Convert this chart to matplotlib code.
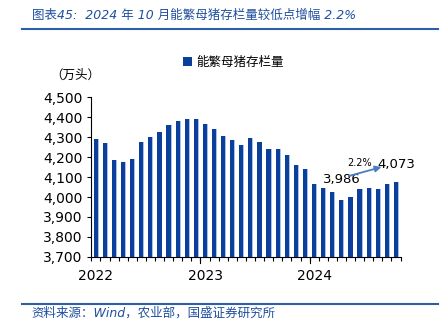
import numpy as np
import matplotlib.pyplot as plt
from matplotlib.ticker import FuncFormatter, FixedLocator

plt.rcParams['font.family'] = ['DejaVu Sans', 'Noto Sans CJK SC']

# 能繁母猪存栏量, 2022-01 .. 2024-10 (万头)
sow_2022 = [4290, 4268, 4185, 4177, 4192, 4277, 4298, 4324, 4362, 4379, 4390, 4390]
sow_2023 = [4367, 4343, 4305, 4287, 4258, 4297, 4273, 4242, 4242, 4212, 4162, 4142]
sow_2024 = [4067, 4045, 4023, 3986, 3998, 4040, 4043, 4038, 4063, 4073]
years = ['2022', '2023', '2024']
low_val = 3986
last_val = 4073
growth = '2.2%'

sows = sow_2022 + sow_2023 + sow_2024
x = np.arange(len(sows))

cjk = ['Noto Sans CJK SC', 'DejaVu Sans']
latin_first = ['DejaVu Sans', 'Noto Sans CJK SC']
blue_dark = '#0b3f9c'
blue_title = '#1f4f9e'

fig = plt.figure(figsize=(4.48, 3.35), dpi=100)
ax = fig.add_axes([0.203, 0.233, 0.692, 0.477])

# light edge on the right of each bar
ax.bar(x - 0.24, sows, width=0.56, align='edge', color='#a9c1e6', zorder=2)
ax.bar(x - 0.24, sows, width=0.46, align='edge', color=blue_dark, zorder=3,
       label='能繁母猪存栏量')

ax.set_ylim(3700, 4500)
ax.set_xlim(-0.55, len(sows) - 0.45)
ax.set_yticks(np.arange(3700, 4501, 100))
ax.yaxis.set_major_formatter(FuncFormatter(lambda v, p: f'{int(v):,}'))
ax.tick_params(axis='y', labelsize=10, length=3, width=0.8, pad=3)

ax.set_xticks([0, 12, 24])
ax.set_xticklabels(years)
ax.tick_params(axis='x', which='major', length=0, labelsize=10, pad=9)
bounds = np.arange(-0.5, len(sows), 1.0)
ax.xaxis.set_minor_locator(FixedLocator(bounds))
ax.tick_params(axis='x', which='minor', length=3, width=0.8)

for s in ['top', 'right']:
    ax.spines[s].set_visible(False)
for s in ['left', 'bottom']:
    ax.spines[s].set_linewidth(0.8)

# year boundaries get a longer tick
for b in [11.5, 23.5]:
    ax.plot([b, b], [0, -0.035], transform=ax.get_xaxis_transform(),
            color='black', lw=0.8, clip_on=False)

i_low = sows.index(low_val)
i_last = len(sows) - 1
ax.annotate(f'{low_val:,}', (i_low, low_val), xytext=(0, 10), textcoords='offset points',
            ha='center', va='bottom', fontsize=9.5, zorder=5)
ax.annotate(f'{last_val:,}', (i_last, last_val), xytext=(0, 8), textcoords='offset points',
            ha='center', va='bottom', fontsize=9.5, zorder=5)
ax.annotate('', xy=(31.4, 4150), xytext=(27.8, 4105),
            arrowprops=dict(arrowstyle='-|>', color='#4a7cc2', lw=1.3,
                            mutation_scale=9, shrinkA=0, shrinkB=0), zorder=5)
ax.text(29.0, 4172, growth, ha='center', va='center', fontsize=7)

ax.legend(loc='upper left', bbox_to_anchor=(0.26, 1.33), frameon=False,
          handlelength=0.7, handleheight=0.7, handletextpad=0.4,
          prop={'family': cjk, 'size': 9})
fig.text(0.113, 0.776, '（万头）', family=cjk, fontsize=9, va='center')

fig.text(0.071, 0.955, '图表45:  2024 年 10 月能繁母猪存栏量较低点增幅 2.2%', family=latin_first,
         fontsize=9, style='italic', color=blue_title, va='center')
fig.add_artist(plt.Line2D([0.049, 0.978], [0.913, 0.913], color='#2d5ea8', lw=1.5))
fig.add_artist(plt.Line2D([0.049, 0.978], [0.093, 0.093], color='#2d5ea8', lw=1.5))
fig.text(0.071, 0.064, '资料来源：Wind，农业部，国盛证券研究所', family=latin_first,
         fontsize=9, style='italic', color=blue_title, va='center')

fig.savefig('out.png', dpi=100)
